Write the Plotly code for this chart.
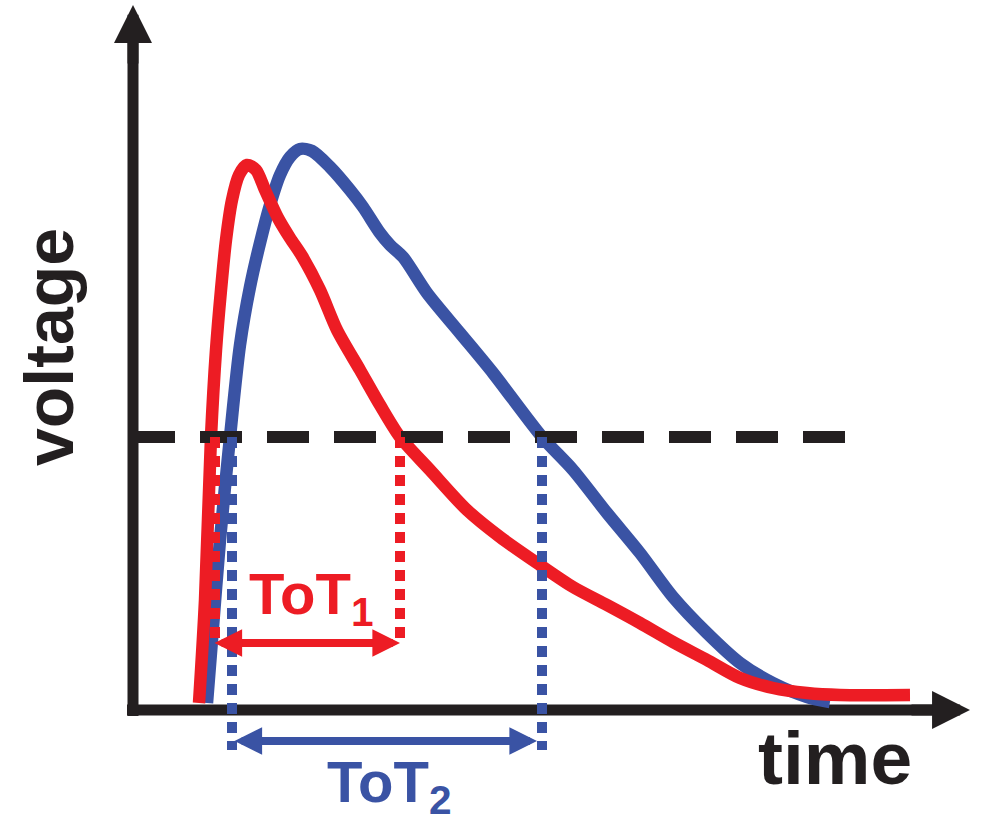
import plotly.graph_objects as go

# ---- data (time / voltage in arbitrary units; origin of the axes at 0,0) ----
red_t = [66, 72, 78, 83, 88, 93, 99, 106, 114, 123, 132, 145, 157, 169, 187, 204, 227, 247, 267,
         297, 334, 367, 407, 440, 474, 507, 540, 574, 607, 640, 674, 707, 777]
red_v = [7, 110, 273, 360, 420, 470, 510, 535, 545, 540, 520, 492, 472, 454, 420, 380, 340, 305, 273,
         240, 200, 173, 145, 123, 105, 87, 68, 50, 32, 22, 17, 15, 15]

blue_t = [74, 79, 87, 97, 107, 117, 127, 137, 147, 157, 167, 179, 197, 217, 230, 247, 257, 270, 294,
          327, 360, 409, 440, 474, 507, 540, 574, 607, 640, 674, 697]
blue_v = [7, 70, 170, 273, 365, 423, 467, 505, 535, 553, 561, 559, 543, 520, 503, 477, 465, 453, 417,
          377, 337, 273, 240, 197, 157, 113, 77, 47, 27, 13, 8]

threshold = 273
threshold_t = [0, 712]
tot1_t = [82, 267]      # red crossing times
tot2_t = [99, 409]      # blue crossing times
tot1_arrow_v = 67
tot2_arrow_v = -31
tot1_dot_bottom = 70
tot2_dot_bottom = -40
time_axis_end = 837
volt_axis_end = 705

RED = "#ED1C24"
BLUE = "#3A53A4"
BLACK = "#231F20"

fig = go.Figure()

# axis lines (below everything)
fig.add_trace(go.Scatter(x=[-6, time_axis_end - 30], y=[0, 0], mode="lines",
                         line=dict(color=BLACK, width=11), hoverinfo="skip"))
fig.add_trace(go.Scatter(x=[0, 0], y=[-6, volt_axis_end - 30], mode="lines",
                         line=dict(color=BLACK, width=11), hoverinfo="skip"))

# pulses
fig.add_trace(go.Scatter(x=blue_t, y=blue_v, mode="lines",
                         line=dict(color=BLUE, width=12.5, shape="spline", smoothing=0.8),
                         hoverinfo="skip"))
fig.add_trace(go.Scatter(x=red_t, y=red_v, mode="lines",
                         line=dict(color=RED, width=12.5, shape="spline", smoothing=0.8),
                         hoverinfo="skip"))

# threshold
fig.add_trace(go.Scatter(x=threshold_t, y=[threshold, threshold], mode="lines",
                         line=dict(color=BLACK, width=12, dash="42px,25px"), hoverinfo="skip"))

# dotted verticals
for t in tot1_t:
    fig.add_trace(go.Scatter(x=[t, t], y=[threshold, tot1_dot_bottom], mode="lines",
                             line=dict(color=RED, width=10, dash="11px,8px"), hoverinfo="skip"))
for t in tot2_t:
    fig.add_trace(go.Scatter(x=[t, t], y=[threshold, tot2_dot_bottom], mode="lines",
                             line=dict(color=BLUE, width=10, dash="11px,8px"), hoverinfo="skip"))

annotations = []
# axis arrowheads
annotations.append(dict(x=time_axis_end, y=0, ax=time_axis_end - 60, ay=0, xref="x", yref="y",
                        axref="x", ayref="y", text="", showarrow=True, arrowhead=2,
                        arrowsize=0.69, arrowwidth=11, arrowcolor=BLACK, standoff=0))
annotations.append(dict(x=0, y=volt_axis_end, ax=0, ay=volt_axis_end - 60, xref="x", yref="y",
                        axref="x", ayref="y", text="", showarrow=True, arrowhead=2,
                        arrowsize=0.69, arrowwidth=11, arrowcolor=BLACK, standoff=0))
# ToT arrows
annotations.append(dict(x=tot1_t[1], y=tot1_arrow_v, ax=tot1_t[0] - 2, ay=tot1_arrow_v,
                        xref="x", yref="y", axref="x", ayref="y", text="", showarrow=True,
                        arrowhead=2, startarrowhead=2, arrowside="end+start",
                        arrowsize=0.69, startarrowsize=0.69, arrowwidth=8, arrowcolor=RED,
                        standoff=0, startstandoff=0))
annotations.append(dict(x=tot2_t[1] - 5, y=tot2_arrow_v, ax=tot2_t[0] + 1, ay=tot2_arrow_v,
                        xref="x", yref="y", axref="x", ayref="y", text="", showarrow=True,
                        arrowhead=2, startarrowhead=2, arrowside="end+start",
                        arrowsize=0.69, startarrowsize=0.69, arrowwidth=8, arrowcolor=BLUE,
                        standoff=0, startstandoff=0))

# texts
annotations.append(dict(x=114, y=112, xref="x", yref="y", text="ToT<sub>1</sub>", showarrow=False,
                        xanchor="left", yanchor="middle",
                        font=dict(family="Liberation Sans", size=58, color=RED, weight=700)))
annotations.append(dict(x=192, y=-76, xref="x", yref="y", text="ToT<sub>2</sub>", showarrow=False,
                        xanchor="left", yanchor="middle",
                        font=dict(family="Liberation Sans", size=58, color=BLUE, weight=700)))
annotations.append(dict(x=702, y=-48, xref="x", yref="y", text="time", showarrow=False,
                        xanchor="center", yanchor="middle",
                        font=dict(family="Liberation Sans", size=75, color=BLACK, weight=700)))
annotations.append(dict(x=-84, y=363, xref="x", yref="y", text="voltage", showarrow=False,
                        textangle=-90, xanchor="center", yanchor="middle",
                        font=dict(family="Liberation Sans", size=68, color=BLACK, weight=700)))

fig.update_layout(
    width=984, height=825,
    margin=dict(l=0, r=0, t=0, b=0),
    paper_bgcolor="white", plot_bgcolor="white",
    showlegend=False,
    xaxis=dict(range=[-133, 851], visible=False, fixedrange=True),
    yaxis=dict(range=[-115, 710], visible=False, fixedrange=True),
    annotations=annotations,
)

fig.write_html("out.html", config={"displayModeBar": False},
               post_script="document.body.style.margin='0';document.body.style.overflow='hidden';")
